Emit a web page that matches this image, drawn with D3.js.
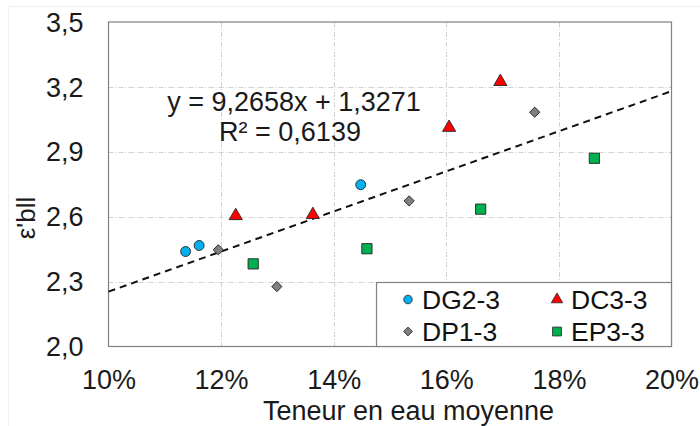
<!DOCTYPE html>
<html>
<head>
<meta charset="utf-8">
<script src="https://cdn.jsdelivr.net/npm/d3@7"></script>
<style>
  html, body { margin: 0; padding: 0; background: #fff; }
  svg { display: block; font-family: "Liberation Sans", Arial, sans-serif; }
</style>
</head>
<body>
<svg id="chart" width="700" height="426"></svg>
<script>
// ---- Data ----
const xTicks = [0.10, 0.12, 0.14, 0.16, 0.18, 0.20];
const yTicks = [2.0, 2.3, 2.6, 2.9, 3.2, 3.5];

const dg23X = [0.1137, 0.1161, 0.1448];
const dg23Y = [2.439, 2.467, 2.748];

const dc33X = [0.1226, 0.1363, 0.1605, 0.1696];
const dc33Y = [2.604, 2.609, 3.012, 3.224];

const dp13X = [0.1195, 0.1299, 0.1534, 0.1757];
const dp13Y = [2.447, 2.277, 2.673, 3.083];

const ep33X = [0.1257, 0.1459, 0.1661, 0.1863];
const ep33Y = [2.382, 2.452, 2.635, 2.870];

const trendSlope = 9.2658;
const trendIntercept = 1.3271;
const equationLines = ["y = 9,2658x + 1,3271", "R² = 0,6139"];

const seriesNames = ["DG2-3", "DC3-3", "DP1-3", "EP3-3"];
const xTitle = "Teneur en eau moyenne";
const yTitle = "ε'bll";

// ---- Layout ----
const svg = d3.select("#chart");
const plot = { left: 108.5, right: 671.5, top: 22, bottom: 346.5 };
const x = d3.scaleLinear().domain([0.10, 0.20]).range([plot.left, plot.right]);
const y = d3.scaleLinear().domain([2.0, 3.5]).range([plot.bottom, plot.top]);

const fmtY = d => d3.format(".1f")(d).replace(".", ",");
const fmtX = d => Math.round(d * 100) + "%";

// faint outer chart border
svg.append("rect").attr("x", 8.5).attr("y", 6.5).attr("width", 700).attr("height", 430)
  .attr("fill", "none").attr("stroke", "#f0f0f0");

// gridlines
const grid = svg.append("g");
grid.selectAll("line.gx").data(xTicks.slice(1, -1)).join("line")
  .attr("x1", d => Math.round(x(d)) + 0.5).attr("x2", d => Math.round(x(d)) + 0.5)
  .attr("y1", plot.top).attr("y2", plot.bottom)
  .attr("stroke", "#d0d0d0").attr("stroke-dasharray", "5,2,1,2");
grid.selectAll("line.gy").data(yTicks.slice(1, -1)).join("line")
  .attr("y1", d => Math.round(y(d)) + 0.5).attr("y2", d => Math.round(y(d)) + 0.5)
  .attr("x1", plot.left).attr("x2", plot.right)
  .attr("stroke", "#d0d0d0").attr("stroke-dasharray", "5,2,1,2");

// plot border
svg.append("rect")
  .attr("x", plot.left).attr("y", plot.top)
  .attr("width", plot.right - plot.left).attr("height", plot.bottom - plot.top)
  .attr("fill", "none").attr("stroke", "#808080").attr("stroke-width", 1.2);

// axes
const yAxis = svg.append("g").attr("transform", `translate(${plot.left},0)`)
  .call(d3.axisLeft(y).tickValues(yTicks).tickFormat(fmtY).tickSize(0).tickPadding(25));
const xAxis = svg.append("g").attr("transform", `translate(0,${plot.bottom})`)
  .call(d3.axisBottom(x).tickValues(xTicks).tickFormat(fmtX).tickSize(0).tickPadding(24));
[yAxis, xAxis].forEach(a => {
  a.select(".domain").remove();
  a.selectAll("text").attr("font-size", 27).attr("fill", "#1a1a1a")
    .attr("font-family", "'Liberation Sans', Arial, sans-serif");
});
xAxis.selectAll("text").attr("dy", "0.68em");
yAxis.selectAll("text").attr("dy", "0.34em");

// trendline
svg.append("line")
  .attr("x1", x(0.10)).attr("y1", y(trendSlope * 0.10 + trendIntercept))
  .attr("x2", x(0.20)).attr("y2", y(trendSlope * 0.20 + trendIntercept))
  .attr("stroke", "#111").attr("stroke-width", 2).attr("stroke-dasharray", "7,5");

// equation
svg.append("text").attr("x", 294).attr("y", 111).attr("text-anchor", "middle")
  .attr("font-size", 27).attr("fill", "#1a1a1a").text(equationLines[0]);
svg.append("text").attr("x", 290).attr("y", 141).attr("text-anchor", "middle")
  .attr("font-size", 27).attr("fill", "#1a1a1a").text(equationLines[1]);

// markers
const markerDefs = [
  { sym: d3.symbolCircle, size: 78, fill: "#00B0F0", rot: 0 },
  { sym: d3.symbolTriangle, size: 75, fill: "#FF0000", rot: 0 },
  { sym: d3.symbolSquare, size: 52, fill: "#7F7F7F", rot: 45 },
  { sym: d3.symbolSquare, size: 105, fill: "#00B050", rot: 0 }
];
const series = [
  { xs: dg23X, ys: dg23Y },
  { xs: dc33X, ys: dc33Y },
  { xs: dp13X, ys: dp13Y },
  { xs: ep33X, ys: ep33Y }
];
series.forEach((s, i) => {
  const m = markerDefs[i];
  svg.append("g").selectAll("path").data(s.xs.map((v, j) => [v, s.ys[j]])).join("path")
    .attr("transform", d => `translate(${x(d[0])},${y(d[1])}) rotate(${m.rot})`)
    .attr("d", d3.symbol().type(m.sym).size(m.size))
    .attr("fill", m.fill).attr("stroke", "#262626").attr("stroke-width", 0.9);
});

// legend
const leg = svg.append("g");
leg.append("rect").attr("x", 376.5).attr("y", 282.5).attr("width", 295).attr("height", 64)
  .attr("fill", "#fff").attr("stroke", "#808080").attr("stroke-width", 1.2);
const legPos = [
  { mx: 408, tx: 422, cy: 299.5 },
  { mx: 557, tx: 571, cy: 299.5 },
  { mx: 408, tx: 422, cy: 331.5 },
  { mx: 557, tx: 571, cy: 331.5 }
];
seriesNames.forEach((name, i) => {
  const p = legPos[i];
  const m = markerDefs[i];
  leg.append("path").attr("transform", `translate(${p.mx},${p.cy}) rotate(${m.rot})`)
    .attr("d", d3.symbol().type(m.sym).size(m.size * 0.75))
    .attr("fill", m.fill).attr("stroke", "#262626").attr("stroke-width", 0.8);
  leg.append("text").attr("x", p.tx).attr("y", p.cy + 9.5)
    .attr("font-size", 26.5).attr("fill", "#111").text(name);
});

// axis titles
svg.append("text").attr("x", 408.5).attr("y", 420).attr("text-anchor", "middle")
  .attr("font-size", 27).attr("fill", "#1a1a1a").text(xTitle);
svg.append("text").attr("transform", "translate(35,218) rotate(-90)")
  .attr("text-anchor", "middle").attr("font-size", 26).attr("fill", "#1a1a1a").text(yTitle);
</script>
</body>
</html>
